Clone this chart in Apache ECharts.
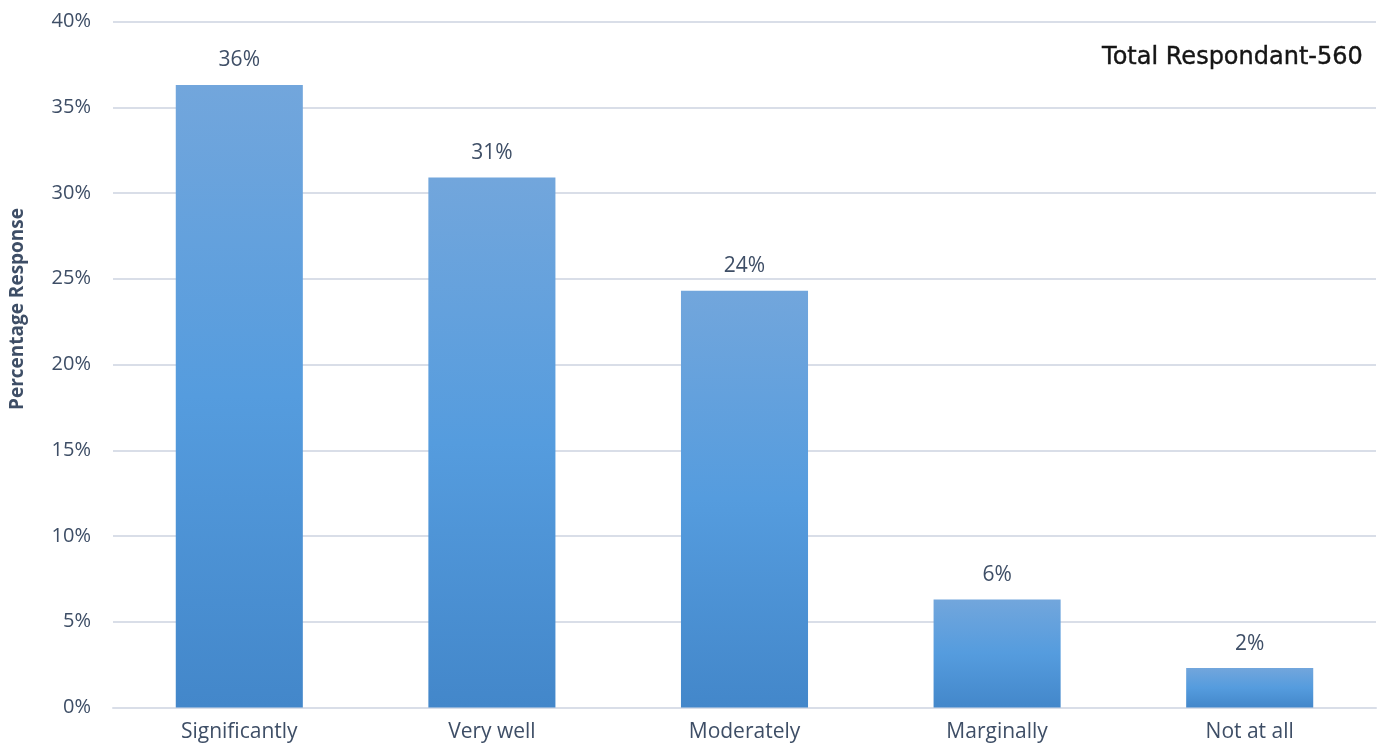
<!DOCTYPE html>
<html>
<head>
<meta charset="utf-8">
<script src="https://cdn.jsdelivr.net/npm/echarts@6/dist/echarts.min.js"></script>
<style>
html,body{margin:0;padding:0;background:#fff;}
#chart{width:1387px;height:753px;}
</style>
</head>
<body>
<div id="chart"></div>
<script>
const categories = ['Significantly', 'Very well', 'Moderately', 'Marginally', 'Not at all'];
const values = [36.3, 30.9, 24.3, 6.3, 2.3];
const labels = ['36%', '31%', '24%', '6%', '2%'];
const yTicks = [0, 5, 10, 15, 20, 25, 30, 35, 40];
const axisTitle = 'Percentage Response';
const note = 'Total Respondant-560';

const textColor = '#3E4E66';
const font = '"Open Sans", "Liberation Sans", sans-serif';

const chart = echarts.init(document.getElementById('chart'));
chart.setOption({
  animation: false,
  backgroundColor: '#ffffff',
  grid: { left: 113, right: 11, top: 21.5, bottom: 45.5, containLabel: false },
  xAxis: {
    type: 'category',
    data: categories,
    axisLine: { show: true, lineStyle: { color: '#D9DEE8', width: 2 } },
    axisTick: { show: false },
    axisLabel: { color: textColor, fontFamily: font, fontSize: 21, margin: 14 }
  },
  yAxis: {
    type: 'value',
    min: yTicks[0],
    max: yTicks[yTicks.length - 1],
    interval: 5,
    axisLine: { show: false },
    axisTick: { show: false },
    splitLine: { lineStyle: { color: '#D9DEE8', width: 2 } },
    axisLabel: { color: textColor, fontFamily: font, fontSize: 20, margin: 22, formatter: v => v + '%' }
  },
  graphic: [
    {
      type: 'text',
      right: 24, top: 46,
      style: { text: note, fill: '#151515', font: '500 24px "DejaVu Sans", sans-serif', stroke: '#151515', lineWidth: 0.4 }
    },
    {
      type: 'text',
      x: 18, y: 309,
      rotation: Math.PI / 2,
      style: { text: axisTitle, fill: textColor, font: 'bold 19px "Open Sans", sans-serif', align: 'center', verticalAlign: 'middle' }
    }
  ],
  series: [{
    type: 'bar',
    data: values,
    barWidth: '50.3%',
    itemStyle: {
      color: new echarts.graphic.LinearGradient(0, 0, 0, 1, [
        { offset: 0, color: '#72A6DC' },
        { offset: 0.5, color: '#559CDE' },
        { offset: 1, color: '#4387CA' }
      ])
    },
    label: {
      show: true,
      position: 'top',
      distance: 14,
      color: textColor,
      fontFamily: font,
      fontSize: 21,
      formatter: p => labels[p.dataIndex]
    }
  }]
});
</script>
</body>
</html>
